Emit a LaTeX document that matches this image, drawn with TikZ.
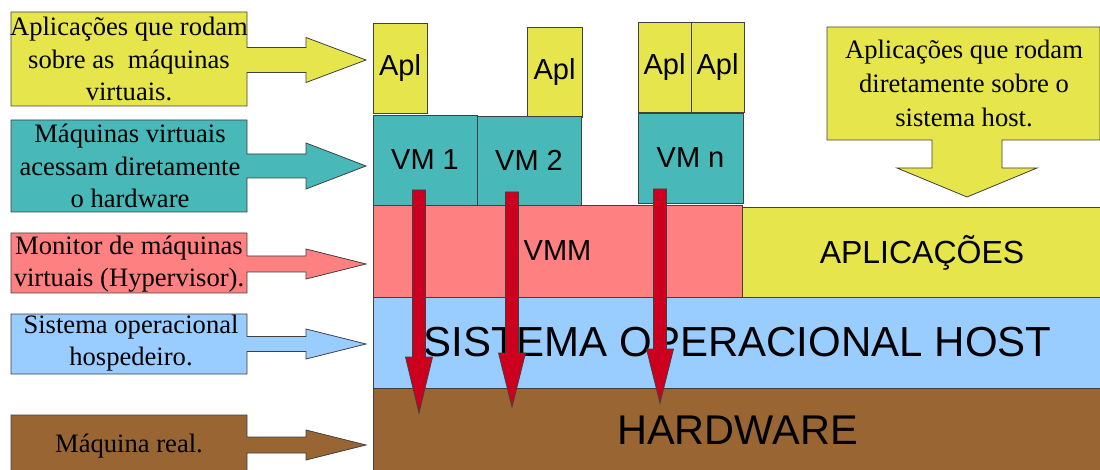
\documentclass[tikz,border=0pt]{standalone}
\usepackage{fontspec}
\setmainfont{Liberation Serif}
\setsansfont{Liberation Sans}
\definecolor{aplYellow}{RGB}{230,230,76}
\definecolor{vmTeal}{RGB}{72,184,184}
\definecolor{vmmPink}{RGB}{255,128,128}
\definecolor{hostBlue}{RGB}{153,204,255}
\definecolor{hwBrown}{RGB}{153,102,51}
\definecolor{pathRed}{RGB}{204,0,30}

\begin{document}
\begin{tikzpicture}[x=1pt, y=-1pt,
		shp/.style = {draw=black!75, line width=0.8pt},
		blk/.style args = {#1/#2/#3}{%
			rectangle, shp, fill=#1, inner sep=0pt, outer sep=0pt,
			anchor=north west, minimum width=#2, minimum height=#3,
			font=\sffamily\fontsize{29}{29}\selectfont},
		lbl/.style = {align=center, font=\fontsize{26.6}{32.5}\selectfont}
		]
		\useasboundingbox (0,0) rectangle (1100,470);
		% blocos principais
		\node (apl1) [blk=aplYellow/54pt/90pt] at (373,23) {Apl};
		\node (apl2) [blk=aplYellow/55pt/90pt] at (527,27) {Apl};
		\node (apl3) [blk=aplYellow/53pt/90pt] at (638,22) {Apl};
		\node (apl4) [blk=aplYellow/53pt/90pt] at (691,22) {Apl};
		\node (vm1) [blk=vmTeal/104pt/90pt] at (373,115) {VM 1};
		\node (vm2) [blk=vmTeal/104pt/89pt] at (477,116) {VM 2};
		\node (vmn) [blk=vmTeal/105pt/90pt] at (638,113) {VM n};
		\node (vmm) [blk=vmmPink/369pt/92pt] at (373,205) {VMM};
		\node (apps) [blk=aplYellow/360pt/91pt, font=\sffamily\fontsize{32}{32}\selectfont] at (742,207) {APLICAÇÕES};
		\node (host) [blk=hostBlue/729pt/91pt, font=\sffamily\fontsize{42}{42}\selectfont] at (373,297) {SISTEMA OPERACIONAL HOST};
		\node (hw) [blk=hwBrown/729pt/85pt, font=\sffamily\fontsize{41.5}{41.5}\selectfont] at (373,388) {HARDWARE};
		% setas vermelhas VM -> hardware
		\foreach \x/\ys/\yh/\yt in {419/190/357/413, 512/192/353/407, 660/189/349/403}
		\draw[shp, fill=pathRed] (\x-6.5,\ys) -- (\x+6.5,\ys) -- (\x+6.5,\yh) -- (\x+13.5,\yh)
			-- (\x,\yt) -- (\x-13.5,\yh) -- (\x-6.5,\yh) -- cycle;
		% legendas da esquerda
		\foreach \col/\yt/\yb/\ym/\sh/\hh in {aplYellow/12/106/60/12.5/22.5, vmTeal/120/212/166/12/23,
			vmmPink/233/293/264/8/15, hostBlue/314/374/344/7.5/15, hwBrown/415/473/445/8/15}
		\draw[shp, fill=\col] (11,\yt) -- (247,\yt) -- (247,\ym-\sh) -- (306,\ym-\sh) -- (306,\ym-\hh)
			-- (366,\ym) -- (306,\ym+\hh) -- (306,\ym+\sh) -- (247,\ym+\sh) -- (247,\yb) -- (11,\yb) -- cycle;
		\node (txtApl) [lbl] at (129,59) {Aplicações que rodam\\sobre as~ máquinas\\virtuais.};
		\node (txtVm) [lbl] at (130,166) {Máquinas virtuais\\acessam diretamente\\o hardware};
		\node (txtVmm) [lbl] at (129,264) {Monitor de máquinas\\virtuais (Hypervisor).};
		\node (txtHost) [lbl] at (131,343) {Sistema operacional\\hospedeiro.};
		\node (txtHw) [lbl] at (129,446) {Máquina real.};
		% legenda da direita
		\draw[shp, fill=aplYellow] (827,27) -- (1100,27) -- (1100,140) -- (1002,140) -- (1002,168)
			-- (1037,168) -- (967,197) -- (897,168) -- (932,168) -- (932,140) -- (827,140) -- cycle;
		\node (txtApps) [lbl, font=\fontsize{26.6}{34}\selectfont] at (964,83) {Aplicações que rodam\\diretamente sobre o\\sistema host.};
	\end{tikzpicture}
\end{document}
